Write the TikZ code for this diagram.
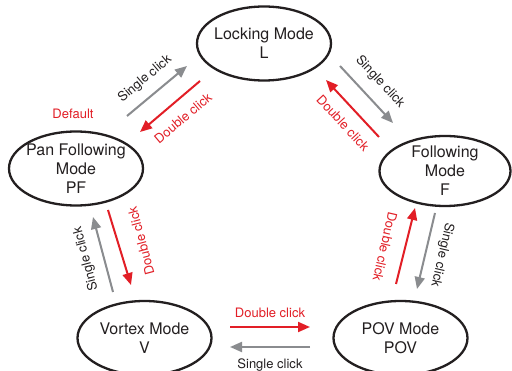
\documentclass[tikz,border=0pt]{standalone}
\usepackage{fontspec}
\setmainfont{TeX Gyre Heros}
\usetikzlibrary{shapes.geometric,arrows.meta}
\definecolor{cred}{RGB}{226,30,38}
\definecolor{cgray}{RGB}{138,140,143}
\definecolor{ctext}{RGB}{35,31,32}
\begin{document}
\begin{tikzpicture}[x=1pt,y=-1pt,
  mode/.style={ellipse,draw=ctext,line width=2.3pt,minimum width=134pt,minimum height=74pt,
    inner sep=-20pt,align=center,text=ctext,font=\fontsize{16}{19}\selectfont},
  arr/.style={line width=2pt,-{Triangle[length=12pt,width=10pt]}},
  sgl/.style={arr,draw=cgray},
  dbl/.style={arr,draw=cred},
  lbl/.style={inner sep=0pt,font=\fontsize{13}{15}\selectfont,text=ctext},
  rlbl/.style={lbl,text=cred}]
\useasboundingbox (0,0) rectangle (512,371);
\fill[white] (0,0) rectangle (512,371);
% modes
\node[mode] (L)   at (264,43.5) {Locking Mode\\L};
\node[mode] (PF)  at (76,168.5) {Pan Following\\Mode\\PF};
\node[mode,minimum width=131pt,minimum height=70pt] (F) at (445,171) {Following\\Mode\\F};
\node[mode] (V)   at (144.5,338) {Vortex Mode\\V};
\node[mode] (POV) at (400.5,338) {POV Mode\\POV};
% arrow ends
\coordinate (pl1) at (127,116); \coordinate (pl2) at (187,66);
\coordinate (lp1) at (200,81);  \coordinate (lp2) at (140,132);
\coordinate (lf1) at (340,66);  \coordinate (lf2) at (393,123);
\coordinate (fl1) at (379,137); \coordinate (fl2) at (326,80);
\coordinate (vp1) at (113,292); \coordinate (vp2) at (93,217);
\coordinate (pv1) at (108,210); \coordinate (pv2) at (131,285);
\coordinate (of1) at (396,284); \coordinate (of2) at (415,208);
\coordinate (fo1) at (435,213); \coordinate (fo2) at (417,289);
\coordinate (vo1) at (230,327); \coordinate (vo2) at (310,327);
\coordinate (ov1) at (310,347); \coordinate (ov2) at (230,347);
% connectors
\draw[sgl] (pl1) -- (pl2);
\draw[dbl] (lp1) -- (lp2);
\draw[sgl] (lf1) -- (lf2);
\draw[dbl] (fl1) -- (fl2);
\draw[sgl] (vp1) -- (vp2);
\draw[dbl] (pv1) -- (pv2);
\draw[dbl] (of1) -- (of2);
\draw[sgl] (fo1) -- (fo2);
\draw[dbl] (vo1) -- (vo2);
\draw[sgl] (ov1) -- (ov2);
% labels
\node[rlbl] (def) at (73,114) {Default};
\node[lbl,rotate=40]  (t1) at (145,79) {Single click};
\node[rlbl,rotate=40] (t2) at (183,118) {Double click};
\node[lbl,rotate=-47]  (t3) at (380,82) {Single click};
\node[rlbl,rotate=-47] (t4) at (343,123) {Double click};
\node[lbl,rotate=105]  (t5) at (86,259) {Single click};
\node[rlbl,rotate=105] (t6) at (141,241) {Double click};
\node[rlbl,rotate=-103] (t7) at (385,247) {Double click};
\node[lbl,rotate=-103]  (t8) at (442,255) {Single click};
\node[rlbl] (t9)  at (270,313) {Double click};
\node[lbl]  (t10) at (270,365) {Single click};
\end{tikzpicture}
\end{document}
